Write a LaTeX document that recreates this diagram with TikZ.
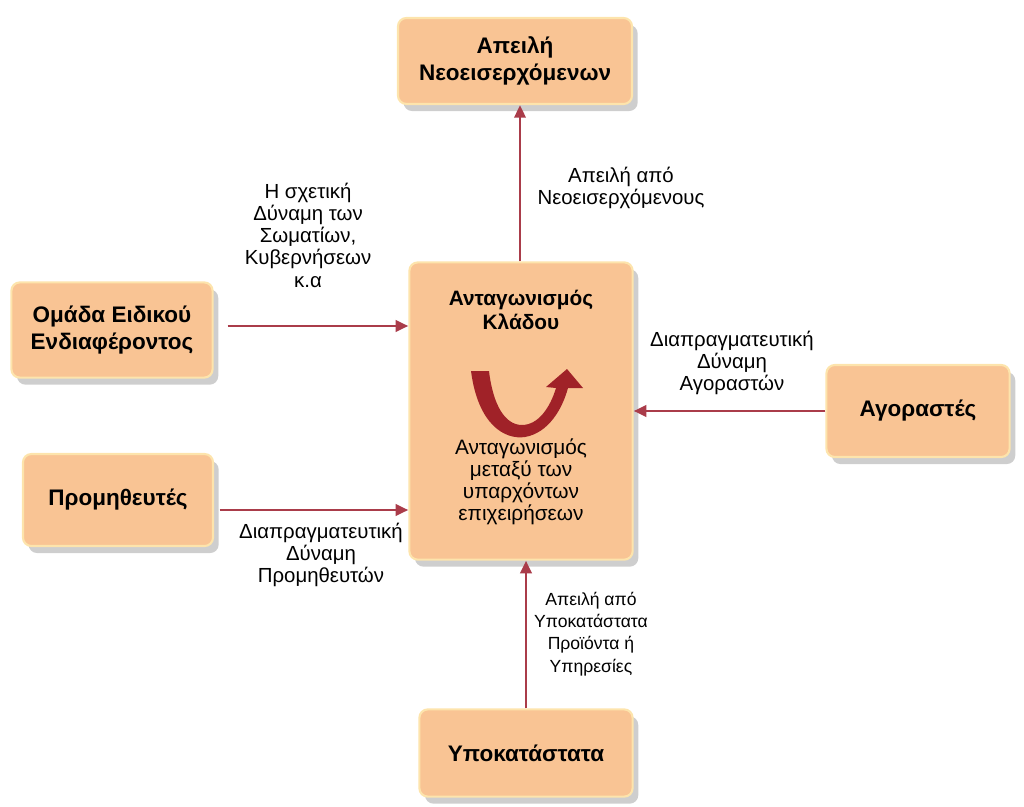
\documentclass[tikz,border=0pt]{standalone}
\usepackage{fontspec}
\setmainfont{Liberation Sans}
\usetikzlibrary{positioning, calc, arrows.meta, shadows}

\definecolor{boxfill}{RGB}{249,196,148}
\definecolor{boxedge}{RGB}{253,228,172}
\definecolor{flowred}{RGB}{170,60,74}
\definecolor{turnred}{RGB}{160,34,40}

\begin{document}
\begin{tikzpicture}[x=0.025cm, y=-0.025cm, >={Triangle[length=9pt,width=8pt]},
    force/.style={draw=boxedge, line width=1.5pt, fill=boxfill, rounded corners=6pt,
        drop shadow={shadow xshift=4pt, shadow yshift=-5pt, opacity=0.35, fill=black!55},
        font=\bfseries\fontsize{16}{19.5}\selectfont, align=center, inner sep=0pt},
    flow/.style={->, draw=flowred, line width=2pt},
    lbl/.style={align=center, font=\fontsize{14.5}{15.8}\selectfont}]

    \useasboundingbox (0,0) rectangle (1024,807);

    % --- Forces around the industry ---
    \node[force, minimum width=5.85cm, minimum height=2.15cm] (newcomers) at (515,61) {Απειλή\\Νεοεισερχόμενων};
    \node[force, minimum width=5.03cm, minimum height=2.38cm] (interest) at (112,330) {Ομάδα Ειδικού\\Ενδιαφέροντος};
    \node[force, minimum width=4.75cm, minimum height=2.3cm] (suppliers) at (118,500) {Προμηθευτές};
    \node[force, minimum width=4.58cm, minimum height=2.3cm] (buyers) at (918,411) {Αγοραστές};
    \node[force, minimum width=5.33cm, minimum height=2.18cm] (substitutes) at (526,753) {Υποκατάστατα};

    % --- Central box: rivalry in the industry ---
    \node[force, minimum width=5.58cm, minimum height=7.43cm] (industry) at (521,411) {};
    \node[font=\bfseries\fontsize{14.8}{17}\selectfont, align=center] (indtitle) at (521,310) {Ανταγωνισμός\\Κλάδου};
    \node[lbl, font=\fontsize{14.8}{15.6}\selectfont] (rivalry) at (521,482) {Ανταγωνισμός\\μεταξύ των\\υπαρχόντων\\επιχειρήσεων};

    % U-turn arrow inside the box
    \fill[turnred] (471,371) .. controls (478,425) and (505,440) .. (525,437)
        .. controls (548,433) and (562,410) .. (568,388) -- (583,388) -- (567,369)
        -- (546,387) -- (556,388) .. controls (550,408) and (538,425) .. (522,425)
        .. controls (505,425) and (493,405) .. (489,371) -- cycle;

    % --- Connectors ---
    \draw[flow] (industry.north -| 520,0) -- (newcomers.south -| 520,0);
    \draw[flow] ([xshift=10pt, yshift=0.1cm]interest.east) -- ([yshift=0.1cm]interest.east -| industry.west);
    \draw[flow] ([xshift=4pt, yshift=-0.25cm]suppliers.east) -- ([yshift=-0.25cm]suppliers.east -| industry.west);
    \draw[flow] (buyers.west) -- (buyers.west -| industry.east);
    \draw[flow] (substitutes.north -| 526,0) -- (industry.south -| 526,0);

    % --- Labels on the connectors ---
    \node[lbl] (interestlbl) at (308,235) {Η σχετική\\Δύναμη των\\Σωματίων,\\Κυβερνήσεων\\κ.α};
    \node[lbl] (newlbl) at (621,188) {Απειλή από\\Νεοεισερχόμενους};
    \node[lbl] (buyerlbl) at (732,363) {Διαπραγματευτική\\Δύναμη\\Αγοραστών};
    \node[lbl] (supplierlbl) at (321,555) {Διαπραγματευτική\\Δύναμη\\Προμηθευτών};
    \node[lbl, font=\fontsize{12.5}{15.8}\selectfont] (sublbl) at (591,634) {Απειλή από\\Υποκατάστατα\\Προϊόντα ή\\Υπηρεσίες};

\end{tikzpicture}
\end{document}
